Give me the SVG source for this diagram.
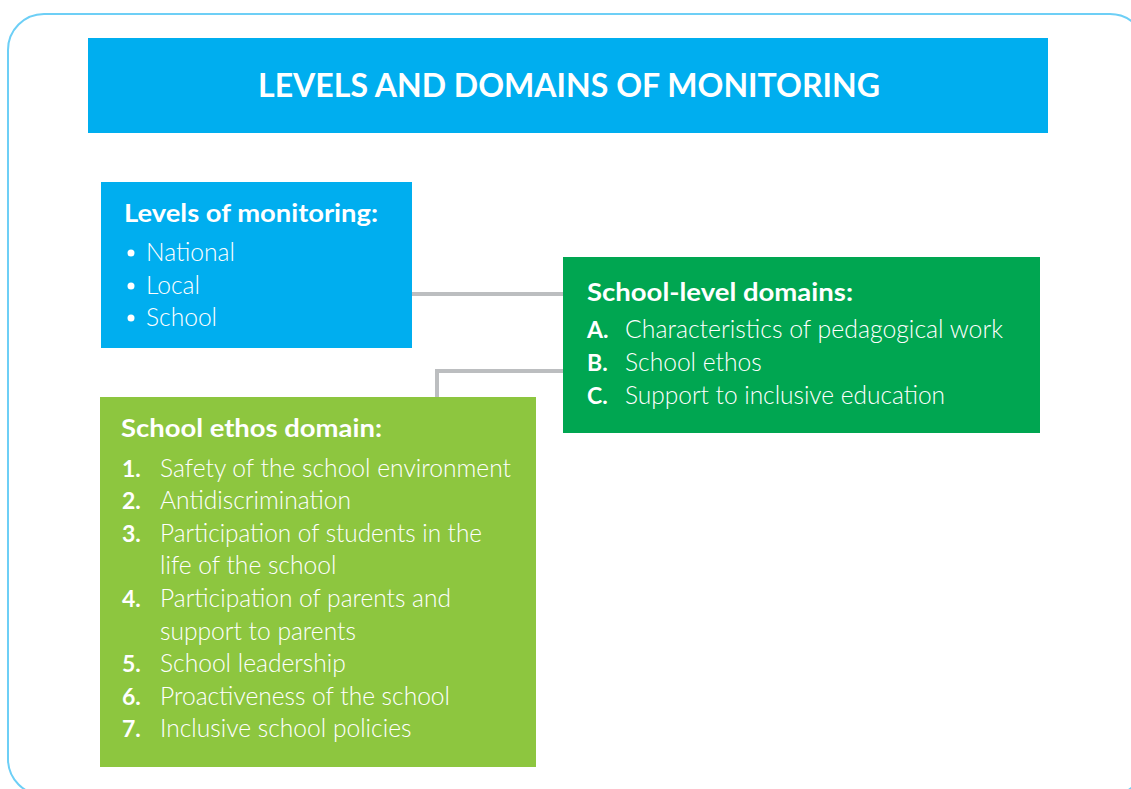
<svg xmlns="http://www.w3.org/2000/svg" width="1131" height="789" viewBox="0 0 1131 789">
  <style>
    .frame { fill: none; stroke: #6dcff6; stroke-width: 2; }
    .title { fill: #00aeef; }
    .blue { fill: #00aeef; }
    .green { fill: #00a651; }
    .lime { fill: #8dc63f; }
    .link { fill: none; stroke: #bcbec0; stroke-width: 4; }
    text { fill: #ffffff; font-family: Lato, "Liberation Sans", sans-serif; }
    .h1 { font-size: 33px; font-weight: 700; }
    .h2 { font-size: 25px; font-weight: 700; }
    .item { font-size: 24.6px; font-weight: 300; }
    .num { font-size: 23px; font-weight: 700; }
  </style>

  <!-- outer frame -->
  <rect class="frame" x="8" y="14" width="1138" height="781" rx="36" ry="36"/>

  <!-- connectors -->
  <g id="connectors">
    <path class="link" d="M412 294 H563"/>
    <path class="link" d="M563 371 H437 V397"/>
  </g>

  <g id="title">
    <rect class="title" x="88" y="38" width="960" height="95"/>
    <text class="h1" x="569" y="97" text-anchor="middle" textLength="622" lengthAdjust="spacingAndGlyphs">LEVELS AND DOMAINS OF MONITORING</text>
  </g>

  <g id="levels">
    <rect class="blue" x="101" y="182" width="311" height="166"/>
    <text class="h2" x="124" y="222" textLength="254" lengthAdjust="spacingAndGlyphs">Levels of monitoring:</text>
    <circle cx="131" cy="253" r="3.5" fill="#fff"/>
    <circle cx="131" cy="286" r="3.5" fill="#fff"/>
    <circle cx="131" cy="318" r="3.5" fill="#fff"/>
    <text class="item" x="146" y="261">National</text>
    <text class="item" x="146" y="294">Local</text>
    <text class="item" x="146" y="326">School</text>
  </g>

  <g id="school-level">
    <rect class="green" x="563" y="257" width="477" height="176"/>
    <text class="h2" x="587" y="301" textLength="266" lengthAdjust="spacingAndGlyphs">School-level domains:</text>
    <text class="num" x="587" y="338">A.</text>
    <text class="item" x="625" y="338" textLength="378" lengthAdjust="spacingAndGlyphs">Characteristics of pedagogical work</text>
    <text class="num" x="587" y="371">B.</text>
    <text class="item" x="625" y="371">School ethos</text>
    <text class="num" x="587" y="404">C.</text>
    <text class="item" x="625" y="404" textLength="320" lengthAdjust="spacingAndGlyphs">Support to inclusive education</text>
  </g>

  <g id="ethos">
    <rect class="lime" x="100" y="397" width="436" height="370"/>
    <text class="h2" x="121" y="437" textLength="261" lengthAdjust="spacingAndGlyphs">School ethos domain:</text>
    <text class="num" x="122" y="477">1.</text>
    <text class="item" x="160" y="477" textLength="351" lengthAdjust="spacingAndGlyphs">Safety of the school environment</text>
    <text class="num" x="122" y="509">2.</text>
    <text class="item" x="160" y="509">Antidiscrimination</text>
    <text class="num" x="122" y="542">3.</text>
    <text class="item" x="160" y="542" textLength="322" lengthAdjust="spacingAndGlyphs">Participation of students in the</text>
    <text class="item" x="160" y="574">life of the school</text>
    <text class="num" x="122" y="607">4.</text>
    <text class="item" x="160" y="607" textLength="291" lengthAdjust="spacingAndGlyphs">Participation of parents and</text>
    <text class="item" x="160" y="640">support to parents</text>
    <text class="num" x="122" y="672">5.</text>
    <text class="item" x="160" y="672">School leadership</text>
    <text class="num" x="122" y="705">6.</text>
    <text class="item" x="160" y="705" textLength="290" lengthAdjust="spacingAndGlyphs">Proactiveness of the school</text>
    <text class="num" x="122" y="737">7.</text>
    <text class="item" x="160" y="737">Inclusive school policies</text>
  </g>
</svg>
